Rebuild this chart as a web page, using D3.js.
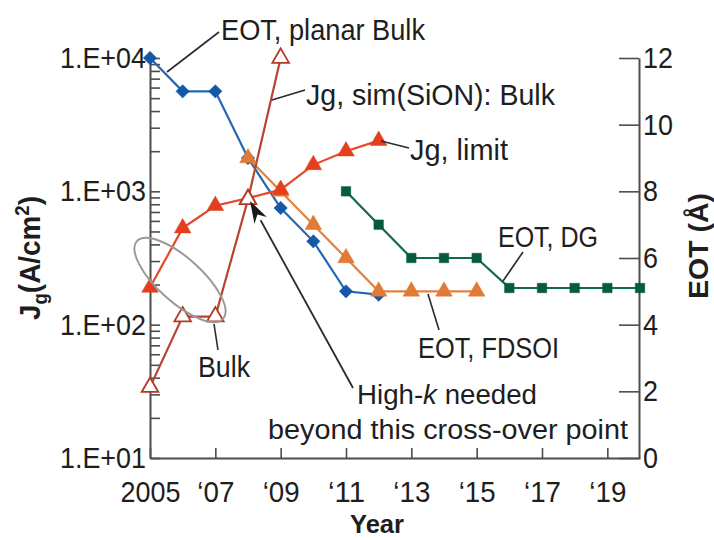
<!DOCTYPE html>
<html><head><meta charset="utf-8">
<script src="https://cdn.jsdelivr.net/npm/d3@7"></script>
<style>body{margin:0;background:#fff}svg{display:block}</style>
</head><body><svg id="c" width="714" height="540"></svg>
<script>
// ---- data ----
const bulkYears  = [2005, 2006, 2007, 2008, 2009, 2010, 2011, 2012];
const eotBulk    = [12, 11, 11, 9, 7.5, 6.5, 5, 4.9];
const fdsoiYears = [2008, 2009, 2010, 2011, 2012, 2013, 2014, 2015];
const eotFdsoi   = [9, 8, 7, 6, 5, 5, 5, 5];
const dgYears    = [2011, 2012, 2013, 2014, 2015, 2016, 2017, 2018, 2019, 2020];
const eotDg      = [8, 7, 6, 6, 6, 5.1, 5.1, 5.1, 5.1, 5.1];
const limitYears = [2005, 2006, 2007, 2008, 2009, 2010, 2011, 2012];
const jgLimit    = [190, 530, 780, 890, 1030, 1580, 2000, 2400];
const simYears   = [2005, 2006, 2007, 2008, 2009];
const jgSim      = [34, 115, 115, 870, 10000];
const xTickYears = [2005, 2007, 2009, 2011, 2013, 2015, 2017, 2019];
const xTickLabels = ["2005", "\u201807", "\u201809", "\u201811", "\u201813", "\u201815", "\u201817", "\u201819"];
const leftTickLabels = {10: "1.E+01", 100: "1.E+02", 1000: "1.E+03", 10000: "1.E+04"};
const rightTicks = [0, 2, 4, 6, 8, 10, 12];

const FONT = '"Liberation Sans Narrow","Arial Narrow","Liberation Sans",Arial,sans-serif';
const svg = d3.select("#c");
svg.append("rect").attr("width", 714).attr("height", 540).attr("fill", "#fff");

const x  = d3.scaleLinear().domain([2005, 2020]).range([150, 640]);
const yL = d3.scaleLog().domain([10, 10000]).range([458, 58]);
const yR = d3.scaleLinear().domain([0, 12]).range([458, 58]);

const AX = "#4d4d4d";
function styleAxis(g) {
  g.select(".domain").attr("stroke", AX).attr("stroke-width", 2);
  g.selectAll(".tick line").attr("stroke", AX).attr("stroke-width", 1.6);
  g.selectAll(".tick text").attr("fill", "#1e1e1e").attr("font-size", 30).attr("font-family", FONT);
}

// left log axis
const leftVals = [];
[10, 100, 1000].forEach(d => { for (let k = 1; k < 10; k++) leftVals.push(d * k); });
leftVals.push(10000);
const gL = svg.append("g").attr("transform", "translate(150,0)")
  .call(d3.axisLeft(yL).tickValues(leftVals).tickSizeInner(-10).tickSizeOuter(0).tickPadding(4)
    .tickFormat(d => leftTickLabels[Math.round(d)] || ""));
styleAxis(gL);
gL.selectAll(".tick text").filter(function(){ return this.textContent !== ""; }).attr("textLength", 86).attr("lengthAdjust", "spacingAndGlyphs");

// bottom axis
const gB = svg.append("g").attr("transform", "translate(0,458)")
  .call(d3.axisBottom(x).tickValues(xTickYears).tickSizeInner(-10).tickSizeOuter(0).tickPadding(23)
    .tickFormat((d, i) => xTickLabels[i]));
styleAxis(gB);
gB.selectAll(".tick text").attr("textLength", (d, i) => i === 0 ? 60 : 37).attr("lengthAdjust", "spacingAndGlyphs");

// right axis
const gR = svg.append("g").attr("transform", "translate(639,0)")
  .call(d3.axisRight(yR).tickValues(rightTicks).tickSizeInner(-20).tickSizeOuter(0).tickPadding(4)
    .tickFormat(d3.format("d")));
styleAxis(gR);
gR.selectAll(".tick text").attr("textLength", d => d >= 10 ? 30 : 15).attr("lengthAdjust", "spacingAndGlyphs");

// axis titles
const tL = svg.append("text").attr("transform", "translate(40,258) rotate(-90)")
  .attr("text-anchor", "middle").attr("font-family", FONT).attr("font-weight", "bold")
  .attr("font-size", 30).attr("fill", "#1e1e1e").attr("textLength", 124).attr("lengthAdjust", "spacingAndGlyphs");
tL.append("tspan").text("J");
tL.append("tspan").attr("font-size", 20).attr("dy", 7).text("g");
tL.append("tspan").attr("dy", -7).text("(A/cm");
tL.append("tspan").attr("font-size", 20).attr("dy", -11).text("2");
tL.append("tspan").attr("dy", 11).text(")");

svg.append("text").attr("transform", "translate(708,246) rotate(-90)")
  .attr("text-anchor", "middle").attr("font-family", FONT).attr("font-weight", "bold")
  .attr("font-size", 28).attr("fill", "#1e1e1e").attr("textLength", 106).attr("lengthAdjust", "spacingAndGlyphs")
  .text("EOT (\u00C5)");

svg.append("text").attr("x", 377).attr("y", 533).attr("text-anchor", "middle")
  .attr("font-family", FONT).attr("font-weight", "bold").attr("font-size", 26).attr("fill", "#1e1e1e")
  .attr("textLength", 54).attr("lengthAdjust", "spacingAndGlyphs").text("Year");

// ---- series ----
const zip = (xs, vs) => xs.map((yr, i) => ({yr, v: vs[i]}));
const series = [
  {data: zip(bulkYears, eotBulk), y: yR, color: "#2566b3", mcolor: "#1459a8", shape: "diamond", fill: true},
  {data: zip(fdsoiYears, eotFdsoi), y: yR, color: "#e3823f", mcolor: "#e07a36", shape: "tri", fill: true},
  {data: zip(dgYears, eotDg), y: yR, color: "#11694f", mcolor: "#055a40", shape: "square", fill: true},
  {data: zip(limitYears, jgLimit), y: yL, color: "#e8482a", mcolor: "#e33f1f", shape: "tri", fill: true},
  {data: zip(simYears, jgSim), y: yL, color: "#b8432f", mcolor: "#b23a28", shape: "tri", fill: false},
];
series.forEach(s => {
  const line = d3.line().x(d => x(d.yr)).y(d => s.y(d.v));
  svg.append("path").datum(s.data).attr("d", line).attr("fill", "none")
    .attr("stroke", s.color).attr("stroke-width", 2.2);
});
series.forEach(s => {
  const type = s.shape === "tri" ? d3.symbolTriangle : d3.symbolSquare;
  const size = s.shape === "tri" ? 120 : s.shape === "diamond" ? 90 : 90;
  const sym = d3.symbol().type(type).size(size);
  svg.append("g").selectAll("path").data(s.data).join("path")
    .attr("transform", d => `translate(${x(d.yr)},${s.y(d.v)})` + (s.shape === "diamond" ? " rotate(45)" : ""))
    .attr("d", sym)
    .attr("fill", s.fill ? s.mcolor : "#fff")
    .attr("stroke", s.mcolor).attr("stroke-width", s.fill ? 0.5 : 1.8);
});

// ellipse
svg.append("ellipse").attr("cx", 0).attr("cy", 0).attr("rx", 58).attr("ry", 22)
  .attr("transform", "translate(180,280) rotate(42)")
  .attr("fill", "none").attr("stroke", "#9a9a9a").attr("stroke-width", 2);

// ---- annotations ----
const ANN = "#2a2a2a";
const leaders = [
  [[167, 72], [219, 32]],
  [[272, 100], [305, 90]],
  [[381, 141], [409, 148]],
  [[503, 281], [523, 252]],
  [[428, 294], [439, 330]],
  [[214, 324], [218, 350]],
];
leaders.forEach(l => svg.append("line").attr("x1", l[0][0]).attr("y1", l[0][1])
  .attr("x2", l[1][0]).attr("y2", l[1][1]).attr("stroke", ANN).attr("stroke-width", 1.6));

const labels = [
  {t: "EOT, planar Bulk", x: 221, y: 40, w: 204, fs: 29},
  {t: "Jg, sim(SiON): Bulk", x: 306, y: 105, w: 249, fs: 29},
  {t: "Jg, limit", x: 410, y: 160, w: 98, fs: 29},
  {t: "EOT, DG", x: 498, y: 247, w: 100, fs: 29},
  {t: "EOT, FDSOI", x: 418, y: 358, w: 141, fs: 29},
  {t: "Bulk", x: 198, y: 377, w: 52, fs: 29},
  {t: "beyond this cross-over point", x: 268, y: 439, w: 360, fs: 27},
];
labels.forEach(a => svg.append("text").attr("x", a.x).attr("y", a.y)
  .attr("font-family", FONT).attr("font-size", a.fs).attr("fill", "#1e1e1e")
  .attr("textLength", a.w).attr("lengthAdjust", "spacingAndGlyphs").text(a.t));
const hk = svg.append("text").attr("x", 357).attr("y", 404)
  .attr("font-family", FONT).attr("font-size", 27).attr("fill", "#1e1e1e")
  .attr("textLength", 180).attr("lengthAdjust", "spacingAndGlyphs");
hk.append("tspan").text("High-");
hk.append("tspan").attr("font-style", "italic").text("k");
hk.append("tspan").text(" needed");

// arrow to cross-over point
const a0 = [353, 388], a1 = [250, 201];
const ang = Math.atan2(a1[1] - a0[1], a1[0] - a0[0]);
const hl = 22, hw = 7;
const base = [a1[0] - hl * Math.cos(ang), a1[1] - hl * Math.sin(ang)];
svg.append("line").attr("x1", a0[0]).attr("y1", a0[1]).attr("x2", base[0]).attr("y2", base[1])
  .attr("stroke", ANN).attr("stroke-width", 1.8);
svg.append("path").attr("fill", "#1a1a1a").attr("d", d3.line()([
  a1,
  [base[0] + hw * Math.sin(ang), base[1] - hw * Math.cos(ang)],
  [a1[0] - 0.7 * hl * Math.cos(ang), a1[1] - 0.7 * hl * Math.sin(ang)],
  [base[0] - hw * Math.sin(ang), base[1] + hw * Math.cos(ang)],
]) + "Z");
</script></body></html>
